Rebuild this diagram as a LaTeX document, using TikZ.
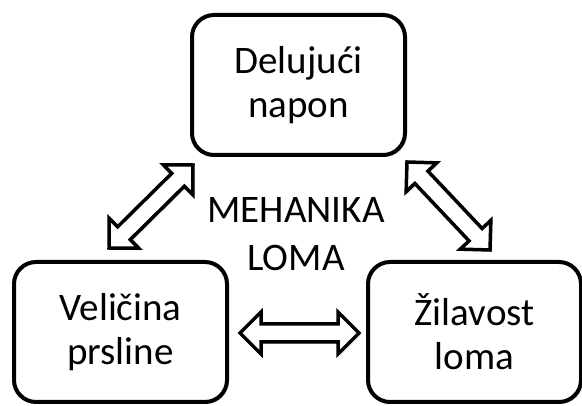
\documentclass[tikz,border=0pt]{standalone}
\usepackage{fontspec}
\setmainfont{Carlito}
\usetikzlibrary{calc,shadows}
\newcommand{\bigfont}{\fontsize{39}{44}\selectfont}
\newcommand{\midfont}{\fontsize{39}{48}\selectfont}
% hollow double arrow between two named points
\newcommand{\twoway}[2]{%
  \draw[twoway] (#1)
    -- ($(#1)!21pt!(#2)!21pt!90:(#2)$)
    -- ($(#1)!21pt!(#2)!9pt!90:(#2)$)
    -- ($(#2)!21pt!(#1)!9pt!-90:(#1)$)
    -- ($(#2)!21pt!(#1)!21pt!-90:(#1)$)
    -- (#2)
    -- ($(#2)!21pt!(#1)!21pt!90:(#1)$)
    -- ($(#2)!21pt!(#1)!9pt!90:(#1)$)
    -- ($(#1)!21pt!(#2)!9pt!-90:(#2)$)
    -- ($(#1)!21pt!(#2)!21pt!-90:(#2)$)
    -- cycle;}

\begin{document}
\begin{tikzpicture}[
    x=1pt, y=-1pt,
    block/.style={rectangle, draw, fill=white, rounded corners=22pt, line width=4pt,
        minimum width=213pt, minimum height=140pt, align=center, font=\bigfont,
        drop shadow={opacity=0.2, shadow xshift=2pt, shadow yshift=-2pt}},
    twoway/.style={draw, fill=white, line width=3.5pt, line join=miter,
        drop shadow={opacity=0.2, shadow xshift=2pt, shadow yshift=-2pt}},
    title/.style={align=center, inner sep=0pt, font=\midfont}
]
    \useasboundingbox (0,0) rectangle (582,406);

    % Boxes
    \node[block] (napon) at (298.5,85) {Delujući\\napon};
    \node[block] (prsl) at (120.5,332) {Veličina\\prsline};
    \node[block] (zil) at (474.5,332) {Žilavost\\loma};

    % Centre label
    \node[title] (meh) at (296,234) {MEHANIKA\\LOMA};

    % Arrow ends
    \coordinate (a1) at (109,248);
    \coordinate (a2) at (193,165);
    \coordinate (b1) at (407,162);
    \coordinate (b2) at (490,250);
    \coordinate (c1) at (240,333);
    \coordinate (c2) at (359,333);

    % Arrows
    \twoway{a1}{a2}
    \twoway{b1}{b2}
    \twoway{c1}{c2}
\end{tikzpicture}
\end{document}
